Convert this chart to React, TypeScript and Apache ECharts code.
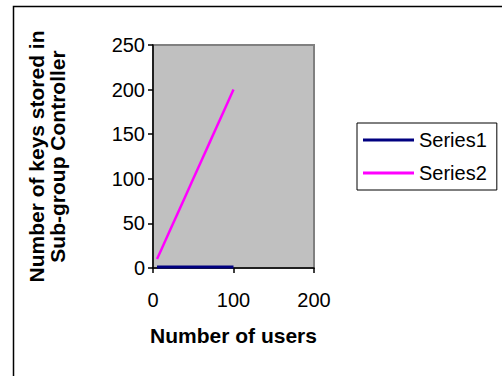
import React, { useEffect, useRef } from "react";
import * as echarts from "echarts";

const series1X = [5, 50, 100];
const series1Y = [1, 1, 1];
const series2X = [5, 10, 20, 30, 40, 50, 60, 70, 80, 90, 100];
const series2Y = [10, 20, 40, 60, 80, 100, 120, 140, 160, 180, 200];
const seriesNames = ["Series1", "Series2"];
const xAxisTitle = "Number of users";
const yAxisTitle = "Number of keys stored in\nSub-group Controller";

export default function App() {
  const ref = useRef<HTMLDivElement>(null);
  useEffect(() => {
    if (!ref.current) return;
    const chart = echarts.init(ref.current, null, { renderer: "svg" });
    const font = "'Liberation Sans', Arial, sans-serif";
    chart.setOption({
      animation: false,
      backgroundColor: "#ffffff",
      textStyle: { fontFamily: font },
      grid: {
        left: 153,
        top: 45,
        right: 188,
        bottom: 108,
        show: true,
        backgroundColor: "#c0c0c0",
        borderColor: "#808080",
        borderWidth: 2,
      },
      xAxis: {
        type: "value",
        min: 0,
        max: 200,
        interval: 100,
        name: xAxisTitle,
        nameLocation: "middle",
        nameGap: 57,
        nameTextStyle: { fontSize: 21, fontWeight: "bold", color: "#000", fontFamily: font },
        axisLine: { show: true, onZero: false, lineStyle: { color: "#000", width: 1.5 } },
        axisTick: { show: true, length: 5, lineStyle: { color: "#000", width: 1.5 } },
        axisLabel: { fontSize: 20, color: "#000", margin: 22, fontFamily: font },
        splitLine: { show: false },
      },
      yAxis: {
        type: "value",
        min: 0,
        max: 250,
        interval: 50,
        name: yAxisTitle,
        nameLocation: "middle",
        nameRotate: 90,
        nameGap: 85,
        nameTextStyle: { fontSize: 21, fontWeight: "bold", color: "#000", fontFamily: font, lineHeight: 21 },
        axisLine: { show: true, onZero: false, lineStyle: { color: "#000", width: 1.5 } },
        axisTick: { show: true, length: 5, lineStyle: { color: "#000", width: 1.5 } },
        axisLabel: { fontSize: 20, color: "#000", margin: 8, fontFamily: font },
        splitLine: { show: false },
      },
      legend: {
        orient: "vertical",
        left: 357,
        top: 123,
        padding: [7, 10, 7, 6],
        itemGap: 13,
        itemWidth: 51,
        itemHeight: 3,
        borderColor: "#000",
        borderWidth: 1,
        backgroundColor: "#fff",
        textStyle: { fontSize: 20, color: "#000", fontFamily: font },
        data: seriesNames.map((n) => ({ name: n, icon: "rect" })),
      },
      graphic: [
        {
          type: "rect",
          shape: { x: 13.5, y: 6.5, width: 700, height: 600 },
          style: { fill: "none", stroke: "#000", lineWidth: 1.5 },
          silent: true,
        },
      ],
      series: [
        {
          name: seriesNames[0],
          type: "line",
          data: series1X.map((x, i) => [x, series1Y[i]]),
          showSymbol: false,
          color: "#000080",
          lineStyle: { width: 3, color: "#000080" },
        },
        {
          name: seriesNames[1],
          type: "line",
          data: series2X.map((x, i) => [x, series2Y[i]]),
          showSymbol: false,
          color: "#ff00ff",
          lineStyle: { width: 2.5, color: "#ff00ff" },
        },
      ],
    });
    return () => chart.dispose();
  }, []);
  return (
    <div
      ref={ref}
      style={{ position: "absolute", left: 0, top: 0, width: 502, height: 376 }}
    />
  );
}
